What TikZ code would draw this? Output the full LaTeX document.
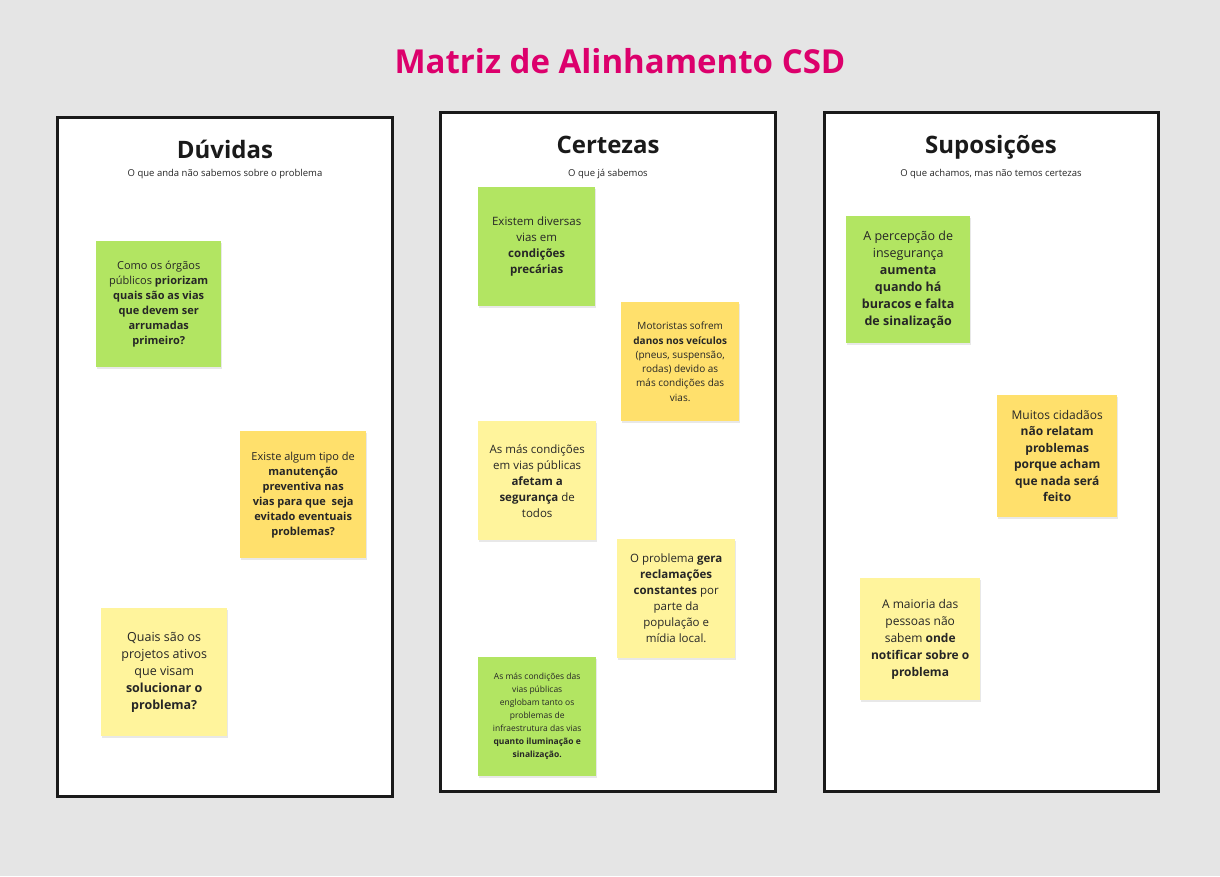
\documentclass[tikz,border=0pt]{standalone}
\usepackage{fontspec}
\setmainfont{Open Sans}
\usetikzlibrary{positioning,shadows}

\definecolor{pagebg}{RGB}{229,229,229}
\definecolor{titlepink}{RGB}{220,0,108}
\definecolor{frameline}{RGB}{26,26,26}
\definecolor{notetext}{RGB}{38,38,38}
\definecolor{notegreen}{RGB}{178,229,98}
\definecolor{noteorange}{RGB}{255,224,108}
\definecolor{notelight}{RGB}{255,244,156}

\tikzset{
  column/.style={draw=frameline, line width=3pt, fill=white, anchor=north west, inner sep=0pt},
  heading/.style={anchor=base, text=frameline, font=\fontsize{24}{28}\selectfont\bfseries},
  subhead/.style={anchor=base, text=notetext, font=\fontsize{9.5}{11}\selectfont},
  sticky/.style={anchor=north west, inner sep=0pt, align=center, text=notetext,
    drop shadow={opacity=0.18, shadow xshift=1pt, shadow yshift=-2pt}},
  greennote/.style={sticky, fill=notegreen},
  orangenote/.style={sticky, fill=noteorange},
  lightnote/.style={sticky, fill=notelight}
}

\begin{document}
\begin{tikzpicture}[x=1pt, y=-1pt]

	\fill[pagebg] (0,0) rectangle (1220,876);
	\useasboundingbox (0,0) rectangle (1220,876);

	\node (title) [anchor=base, text=titlepink, font=\fontsize{33}{38}\selectfont\bfseries] at (620,73) {Matriz de Alinhamento CSD};

	\node (dcol) [column, minimum width=335pt, minimum height=679pt] at (56,116) {};
	\node (ccol) [column, minimum width=335pt, minimum height=679pt] at (439,111) {};
	\node (scol) [column, minimum width=334pt, minimum height=679pt] at (823,111) {};

	\node (dhead) [heading] at (225,158) {Dúvidas};
	\node (chead) [heading] at (608,153) {Certezas};
	\node (shead) [heading] at (991,153) {Suposições};

	\node (dsub) [subhead] at (225,176) {O que anda não sabemos sobre o problema};
	\node (csub) [subhead] at (608,176) {O que já sabemos};
	\node (ssub) [subhead] at (991,176) {O que achamos, mas não temos certezas};

	\node (d1) [greennote, minimum width=125pt, minimum height=126pt, font=\fontsize{11}{15}\selectfont] at (96,241)
		{Como os órgãos\\ públicos \textbf{priorizam}\\ \textbf{quais são as vias}\\ \textbf{que devem ser}\\ \textbf{arrumadas}\\ \textbf{primeiro?}};
	\node (d2) [orangenote, minimum width=126pt, minimum height=127pt, font=\fontsize{11}{15}\selectfont] at (240,431)
		{Existe algum tipo de\\ \textbf{manutenção}\\ \textbf{preventiva nas}\\ \textbf{vias para que\ \ seja}\\ \textbf{evitado eventuais}\\ \textbf{problemas?}};
	\node (d3) [lightnote, minimum width=126pt, minimum height=128pt, font=\fontsize{12.5}{17}\selectfont] at (101,608)
		{Quais são os\\ projetos ativos\\ que visam\\ \textbf{solucionar o}\\ \textbf{problema?}};

	\node (c1) [greennote, minimum width=117pt, minimum height=119pt, font=\fontsize{11.5}{16}\selectfont] at (478,187)
		{Existem diversas\\ vias em\\ \textbf{condições}\\ \textbf{precárias}};
	\node (c2) [orangenote, minimum width=118pt, minimum height=119pt, font=\fontsize{10}{14.3}\selectfont] at (621,302)
		{Motoristas sofrem\\ \textbf{danos nos veículos}\\ (pneus, suspensão,\\ rodas) devido as\\ más condições das\\ vias.};
	\node (c3) [lightnote, minimum width=118pt, minimum height=119pt, font=\fontsize{11.5}{16}\selectfont] at (478,421)
		{As más condições\\ em vias públicas\\ \textbf{afetam a}\\ \textbf{segurança} de\\ todos};
	\node (c4) [lightnote, minimum width=118pt, minimum height=119pt, font=\fontsize{11.5}{16}\selectfont] at (617,539)
		{O problema \textbf{gera}\\ \textbf{reclamações}\\ \textbf{constantes} por\\ parte da\\ população e\\ mídia local.};
	\node (c5) [greennote, minimum width=118pt, minimum height=119pt, font=\fontsize{8.5}{13}\selectfont] at (478,657)
		{As más condições das\\ vias públicas\\ englobam tanto os\\ problemas de\\ infraestrutura das vias\\ \textbf{quanto iluminação e}\\ \textbf{sinalização.}};

	\node (s1) [greennote, minimum width=124pt, minimum height=127pt, font=\fontsize{12.5}{17}\selectfont] at (846,216)
		{A percepção de\\ insegurança\\ \textbf{aumenta}\\ \textbf{quando há}\\ \textbf{buracos e falta}\\ \textbf{de sinalização}};
	\node (s2) [orangenote, minimum width=120pt, minimum height=122pt, font=\fontsize{12}{16.5}\selectfont] at (997,395)
		{Muitos cidadãos\\ \textbf{não relatam}\\ \textbf{problemas}\\ \textbf{porque acham}\\ \textbf{que nada será}\\ \textbf{feito}};
	\node (s3) [lightnote, minimum width=120pt, minimum height=122pt, font=\fontsize{12}{17}\selectfont] at (860,578)
		{A maioria das\\ pessoas não\\ sabem \textbf{onde}\\ \textbf{notificar sobre o}\\ \textbf{problema}};

\end{tikzpicture}
\end{document}
